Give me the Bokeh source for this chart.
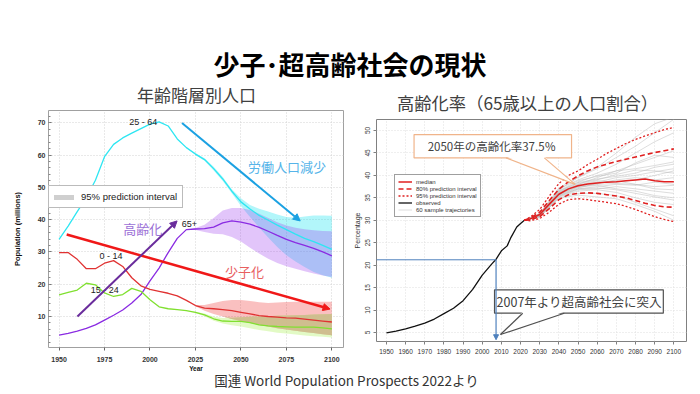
import numpy as np
from bokeh.plotting import figure
from bokeh.models import Legend, LegendItem, Arrow, NormalHead, FixedTicker, Div, Spacer
from bokeh.layouts import column, row
from bokeh.embed import file_html
from bokeh.resources import INLINE
from bokeh.core.properties import value

# ---------------- texts ----------------
slide_title = "少子･超高齢社会の現状"
left_title = "年齢階層別人口"
right_title = "高齢化率（65歳以上の人口割合）"
footer_text = "国連 World Population Prospects 2022より"

# ---------------- Left chart data (millions) ----------------
years = list(range(1950, 2101, 5))
pop_25_64 = [33.9, 38.0, 42.5, 46.8, 52.2, 59.5, 63.3, 65.3, 66.8, 68.2, 69.6, 70.3, 69.0, 65.0,
             62.3, 60.3, 58.6, 55.8, 52.6, 48.8, 45.5, 43.3, 41.3, 39.8, 38.3, 36.9, 35.5, 34.2,
             33.2, 32.0, 30.8]
pop_65plus = [4.2, 4.8, 5.5, 6.3, 7.4, 8.9, 10.4, 12.0, 14.2, 16.8, 21.0, 25.0, 29.8, 34.2,
              36.9, 37.1, 37.2, 37.7, 39.0, 39.6, 39.2, 38.6, 37.6, 36.4, 35.1, 33.9, 32.9, 32.0,
              31.1, 30.0, 28.8]
pop_0_14 = [29.8, 29.8, 27.7, 24.8, 24.8, 26.5, 27.3, 25.5, 22.0, 19.5, 18.4, 17.8, 17.2, 16.4,
            15.0, 13.4, 12.6, 12.4, 12.1, 11.8, 11.3, 10.8, 10.3, 10.0, 9.8, 9.6, 9.5, 9.2,
            8.9, 8.6, 8.3]
pop_15_24 = [16.7, 17.5, 18.2, 20.3, 19.8, 17.3, 16.2, 16.8, 18.7, 17.8, 15.2, 13.0, 12.4, 12.1,
             11.8, 11.3, 10.5, 9.3, 8.6, 8.5, 8.5, 8.1, 7.4, 7.1, 6.9, 6.8, 6.7, 6.7,
             6.7, 6.5, 6.2]

pi_years = list(range(2020, 2101, 5))
pi_25_64_upper = [62.3, 60.6, 59.0, 56.4, 53.2, 49.4, 46.6, 44.5, 43.4, 42.5, 41.6, 40.8, 40.6,
                  41.0, 41.3, 41.3, 41.2]
pi_25_64_lower = [62.3, 60.0, 58.2, 55.2, 52.0, 48.2, 44.2, 40.8, 37.6, 34.5, 31.5, 29.0, 27.0,
                  25.3, 23.8, 22.8, 22.0]
pi_65_upper = [36.9, 37.4, 38.4, 40.5, 42.8, 43.6, 43.6, 43.0, 41.8, 40.5, 39.2, 38.2, 37.5,
               37.0, 36.7, 36.5, 36.4]
pi_65_lower = [36.9, 36.8, 36.2, 35.6, 35.5, 34.6, 33.2, 31.3, 29.5, 27.9, 26.6, 25.6, 24.8,
               24.0, 23.3, 22.7, 22.2]
pi_0_14_upper = [15.0, 13.6, 13.6, 14.2, 14.8, 15.1, 15.1, 14.8, 14.4, 14.2, 14.3, 14.5, 14.6,
                 14.6, 14.6, 14.6, 14.6]
pi_0_14_lower = [15.0, 13.2, 11.8, 10.8, 10.0, 9.2, 8.6, 8.0, 7.4, 6.9, 6.4, 6.0, 5.6,
                 5.2, 4.9, 4.5, 4.2]
pi_15_24_upper = [11.8, 11.5, 10.9, 9.9, 9.5, 9.6, 9.8, 9.9, 10.0, 10.1, 10.2, 10.3, 10.4,
                  10.5, 10.6, 10.7, 10.8]
pi_15_24_lower = [11.8, 11.1, 10.1, 8.7, 7.8, 7.3, 6.9, 6.4, 5.8, 5.4, 5.0, 4.7, 4.4,
                  4.1, 3.9, 3.7, 3.5]

left_x_ticks = [1950, 1975, 2000, 2025, 2050, 2075, 2100]
left_y_ticks = [10, 20, 30, 40, 50, 60, 70]

# series labels and annotations (left)
series_labels = ["25 - 64", "0 - 14", "15 - 24"]
series_label_x = [1996.3, 1978.5, 1975.1]
series_label_y = [70.2, 28.7, 18.3]
label_65 = "65+"
ann_left_text = ["高齢化", "少子化", "労働人口減少"]
ann_left_x = [1996.0, 2051.9, 2075.3]
ann_left_y = [37.4, 23.9, 56.6]
ann_left_color = ["#9b6fd6", "#e8605f", "#56b4e9"]
arrows_left = [  # x0, y0, x1, y1, color, width
    (2017.6, 69.9, 2082.6, 39.6, "#1ba1e2", 2.0),
    (1954.2, 35.4, 2099.0, 12.3, "#f01818", 2.5),
    (1960.1, 10.0, 2014.9, 39.6, "#6a2c9c", 2.0),
]

# ---------------- Right chart data (%) ----------------
obs_years = [1950, 1955, 1960, 1965, 1970, 1975, 1980, 1985, 1990, 1995, 2000, 2005, 2007,
             2010, 2013, 2015, 2018, 2020, 2022]
obs_values = [4.9, 5.3, 5.8, 6.4, 7.1, 8.0, 9.2, 10.4, 12.1, 14.6, 17.8, 20.3, 21.2,
              23.2, 24.3, 26.2, 28.5, 29.3, 30.0]
proj_years = [2022] + list(range(2025, 2101, 5))
median = [30.0, 30.3, 31.3, 33.6, 35.8, 37.0, 37.7, 38.1, 38.3, 38.5, 38.6, 38.8, 39.0,
          39.2, 38.8, 38.6, 38.6]
pi80_upper = [30.0, 30.5, 31.8, 34.4, 36.9, 38.6, 39.9, 41.0, 41.9, 42.5, 43.1, 43.6, 44.1,
              44.6, 45.1, 45.5, 45.9]
pi80_lower = [30.0, 30.1, 30.8, 32.6, 34.6, 35.7, 36.0, 36.1, 36.0, 35.7, 35.4, 35.0, 34.4,
              33.8, 33.3, 33.0, 32.9]
pi95_upper = [30.0, 30.7, 32.4, 35.4, 38.2, 40.0, 41.0, 42.4, 43.6, 44.9, 46.0, 47.1, 48.0,
              48.8, 49.5, 50.2, 50.7]
pi95_lower = [30.0, 29.9, 30.4, 31.8, 33.6, 34.6, 34.8, 34.6, 34.3, 34.0, 33.7, 33.1, 32.4,
              31.6, 30.8, 30.2, 29.7]
traj_years = [2022, 2030, 2040, 2050, 2060, 2070, 2080, 2090, 2100]
traj_values = [
    [30.0, 31.2, 36.2, 38.0, 39.5, 41.0, 42.5, 44.0, 45.5],
    [30.0, 31.0, 35.5, 37.0, 37.2, 36.8, 36.0, 35.2, 34.5],
    [30.0, 31.5, 37.0, 39.0, 40.5, 42.5, 45.0, 47.5, 49.5],
    [30.0, 30.8, 35.0, 36.0, 36.0, 35.5, 34.0, 32.5, 31.0],
    [30.0, 31.1, 36.0, 37.8, 38.5, 39.5, 40.0, 40.8, 41.5],
    [30.0, 31.0, 35.8, 37.5, 38.0, 38.2, 38.0, 37.5, 37.8],
    [30.0, 31.3, 36.5, 38.5, 40.0, 41.0, 41.5, 42.2, 43.0],
    [30.0, 30.9, 35.3, 36.8, 37.0, 37.5, 37.0, 36.5, 36.0],
    [30.0, 31.4, 36.8, 39.5, 41.5, 44.0, 46.5, 49.5, 52.5],
    [30.0, 31.0, 35.6, 37.2, 38.2, 39.0, 39.5, 39.0, 39.5],
    [30.0, 31.2, 36.3, 38.2, 39.0, 40.2, 41.2, 41.0, 40.5],
    [30.0, 30.8, 35.2, 36.5, 36.8, 36.2, 35.0, 34.0, 33.5],
    [30.0, 31.1, 36.1, 37.9, 38.8, 38.5, 39.0, 40.0, 41.0],
    [30.0, 31.3, 36.6, 38.8, 39.8, 40.5, 42.8, 44.5, 44.0],
    [30.0, 30.9, 35.4, 37.0, 37.5, 38.0, 37.8, 38.5, 38.0],
    [30.0, 31.0, 35.7, 37.4, 37.8, 37.0, 36.5, 35.5, 35.0],
    [30.0, 31.2, 36.4, 38.4, 39.2, 39.8, 40.5, 41.8, 42.5],
    [30.0, 31.5, 37.2, 39.6, 41.8, 45.0, 48.5, 51.5, 53.0],
    [30.0, 31.0, 35.9, 37.6, 38.3, 38.8, 38.0, 37.0, 36.8],
    [30.0, 30.7, 34.9, 35.6, 35.2, 34.8, 33.5, 32.0, 30.0],
]
right_x_ticks = list(range(1950, 2101, 10))
right_y_ticks = list(range(5, 51, 5))

# callouts (right)
callout1_text = "2050年の高齢化率37.5％"
callout1_box = (1964.4, 2046.6, 49.1, 43.9)      # left, right, top, bottom
callout1_tail = ([2012.4, 2048.5, 2032.4], [43.9, 38.0, 43.9])
callout1_pos = (2005.0, 46.5)
callout2_text = "2007年より超高齢社会に突入"
callout2_box = (2006.4, 2094.5, 14.5, 9.3)
callout2_tail = ([2021.1, 2009.5, 2042.8], [9.3, 4.55, 9.3])
callout2_pos = (2050.6, 11.95)
year_2007 = 2007.2
rate_2007 = 21.2

FONT_JP = "Noto Sans CJK JP"
FONT_LAT = "Liberation Sans"

# ================= Left figure =================
p1 = figure(width=342, height=268, x_range=(1944.2, 2106.4), y_range=(0.4, 73.8),
            output_backend="svg", toolbar_location=None,
            min_border_left=40, min_border_right=7, min_border_top=4, min_border_bottom=25)
p1.background_fill_color = "white"
p1.border_fill_color = "white"
p1.outline_line_color = "#a0a0a0"
p1.grid.grid_line_color = "#d2d2d2"
p1.grid.grid_line_dash = "1 2"
p1.xaxis.ticker = FixedTicker(ticks=left_x_ticks)
p1.yaxis.ticker = FixedTicker(ticks=left_y_ticks, minor_ticks=list(range(2, 74, 2)))
for ax in (p1.xaxis[0], p1.yaxis[0]):
    ax.axis_line_color = None
    ax.major_label_text_font = FONT_LAT
    ax.major_label_text_font_size = "7px"
    ax.major_label_text_font_style = "bold"
    ax.major_label_text_color = "#333333"
    ax.major_tick_line_color = "#666666"
    ax.minor_tick_line_color = "#888888"
    ax.axis_label_text_font = FONT_LAT
    ax.axis_label_text_font_style = "bold"
    ax.axis_label_text_color = "#111111"
p1.xaxis.major_tick_out = 3
p1.xaxis.major_tick_in = 0
p1.xaxis.minor_tick_out = 0
p1.xaxis.minor_tick_in = 0
p1.xaxis.major_label_standoff = 6
p1.xaxis.axis_label = "Year"
p1.xaxis.axis_label_text_font_size = "6.5px"
p1.xaxis.axis_label_standoff = 0
p1.yaxis.major_tick_out = 0
p1.yaxis.major_tick_in = 3
p1.yaxis.minor_tick_out = 0
p1.yaxis.minor_tick_in = 2
p1.yaxis.major_label_standoff = 3
p1.yaxis.axis_label = "Population (millions)"
p1.yaxis.axis_label_text_font_size = "7.5px"
p1.yaxis.axis_label_standoff = 13

# bands
p1.varea(x=pi_years, y1=pi_25_64_lower, y2=pi_25_64_upper, fill_color="#00e0f0", fill_alpha=0.3)
p1.varea(x=pi_years, y1=pi_65_lower, y2=pi_65_upper, fill_color="#a040f0", fill_alpha=0.3)
p1.varea(x=pi_years, y1=pi_0_14_lower, y2=pi_0_14_upper, fill_color="#f03030", fill_alpha=0.3)
p1.varea(x=pi_years, y1=pi_15_24_lower, y2=pi_15_24_upper, fill_color="#a0f040", fill_alpha=0.3)
ov_lo = np.maximum(pi_0_14_lower, pi_15_24_lower)
ov_hi = np.minimum(pi_0_14_upper, pi_15_24_upper)
ov_hi = np.maximum(ov_hi, ov_lo)
p1.varea(x=pi_years, y1=ov_lo, y2=ov_hi, fill_color="#cdbd8e", fill_alpha=0.9)

# lines
p1.line(years, pop_25_64, line_color="#2ee6f2", line_width=1.3)
p1.line(years, pop_65plus, line_color="#8a2be2", line_width=1.3)
p1.line(years, pop_0_14, line_color="#e03232", line_width=1.3)
p1.line(years, pop_15_24, line_color="#80e030", line_width=1.3)

# arrows
for x0, y0, x1, y1, c, w in arrows_left:
    p1.add_layout(Arrow(end=NormalHead(size=7, fill_color=c, line_color=c, line_width=1),
                        x_start=x0, y_start=y0, x_end=x1, y_end=y1,
                        line_color=c, line_width=w))

# labels
p1.text(x=series_label_x, y=series_label_y, text=series_labels, text_font=value(FONT_LAT),
        text_font_size="9px", text_color="#222222", text_align="center", text_baseline="middle")
p1.text(x=[2017.5], y=[38.8], text=[label_65], text_font=value(FONT_LAT),
        text_font_size="9px", text_color="#222222", text_align="left", text_baseline="middle")
p1.text(x=ann_left_x, y=ann_left_y, text=ann_left_text, text_font=value(FONT_JP),
        text_font_size="13px", text_color=ann_left_color, text_align="center",
        text_baseline="middle")

# legend (swatch only, no data drawn)
r_leg = p1.line(x=[np.nan], y=[np.nan], line_color="#cfcfcf", line_width=5, line_cap="round")
leg1 = Legend(items=[LegendItem(label="95% prediction interval", renderers=[r_leg])],
              location=(0, 139), label_text_font=FONT_LAT, label_text_font_size="9.5px",
              label_text_color="#222222", glyph_width=20, glyph_height=10, label_height=11,
              label_standoff=7, padding=5, margin=0, spacing=0,
              border_line_color="#777777", background_fill_alpha=1.0)
p1.add_layout(leg1)

# ================= Right figure =================
p2 = figure(width=342, height=262, x_range=(1944.8, 2106.6), y_range=(3.0, 52.45),
            output_backend="svg", toolbar_location=None,
            min_border_left=25, min_border_right=6, min_border_top=7, min_border_bottom=33)
p2.background_fill_color = "white"
p2.border_fill_color = "white"
p2.outline_line_color = "#808080"
p2.grid.grid_line_color = "#dedede"
p2.grid.grid_line_dash = "1 2"
p2.xaxis.ticker = FixedTicker(ticks=right_x_ticks)
p2.yaxis.ticker = FixedTicker(ticks=right_y_ticks)
for ax in (p2.xaxis[0], p2.yaxis[0]):
    ax.axis_line_color = None
    ax.major_label_text_font = FONT_LAT
    ax.major_label_text_font_size = "6.5px"
    ax.major_label_text_color = "#333333"
    ax.major_tick_line_color = "#808080"
    ax.major_tick_out = 3
    ax.major_tick_in = 0
    ax.minor_tick_out = 0
    ax.minor_tick_in = 0
    ax.major_label_standoff = 3
p2.xaxis.major_label_standoff = 4
p2.yaxis.major_label_orientation = "vertical"
p2.yaxis.axis_label = "Percentage"
p2.yaxis.axis_label_text_font = FONT_LAT
p2.yaxis.axis_label_text_font_size = "7px"
p2.yaxis.axis_label_text_font_style = "normal"
p2.yaxis.axis_label_text_color = "#333333"
p2.yaxis.axis_label_standoff = 2

r_traj = p2.multi_line(xs=[traj_years] * len(traj_values), ys=traj_values,
                       line_color="#b8b8b8", line_alpha=0.6, line_width=0.8)
r_obs = p2.line(obs_years, obs_values, line_color="#111111", line_width=1.3)
r95 = p2.line(proj_years, pi95_upper, line_color="#e02020", line_width=1.3, line_dash="2 2")
p2.line(proj_years, pi95_lower, line_color="#e02020", line_width=1.3, line_dash="2 2")
r80 = p2.line(proj_years, pi80_upper, line_color="#e02020", line_width=1.6, line_dash="5 3")
p2.line(proj_years, pi80_lower, line_color="#e02020", line_width=1.6, line_dash="5 3")
r_med = p2.line(proj_years, median, line_color="#e02020", line_width=1.5)

# 2007 marker
p2.segment(x0=[1944.8], y0=[rate_2007], x1=[year_2007], y1=[rate_2007],
           line_color="#4f81bd", line_width=1)
p2.add_layout(Arrow(end=NormalHead(size=5, fill_color="#4f81bd", line_color="#4f81bd"),
                    x_start=year_2007, y_start=rate_2007, x_end=year_2007, y_end=3.4,
                    line_color="#4f81bd", line_width=1.2))

# callouts
def callout(p, box, tail, pos, text, edge, size):
    l, r, t, b = box
    p.quad(left=[l], right=[r], top=[t], bottom=[b], fill_color="white",
           line_color=edge, line_width=1.2)
    tx, ty = tail
    eps = (t - b) * 0.06
    p.patch(x=[tx[0], tx[1], tx[2]], y=[ty[0] + eps, ty[1], ty[2] + eps],
            fill_color="white", line_color=None)
    p.multi_line(xs=[[tx[0], tx[1]], [tx[1], tx[2]]], ys=[[ty[0], ty[1]], [ty[1], ty[2]]],
                 line_color=edge, line_width=1.2)
    p.text(x=[pos[0]], y=[pos[1]], text=[text], text_font=value(FONT_JP),
           text_font_size=size, text_color="#404040", text_align="center",
           text_baseline="middle")

callout(p2, callout1_box, callout1_tail, callout1_pos, callout1_text, "#f0b48a", "11.5px")
callout(p2, callout2_box, callout2_tail, callout2_pos, callout2_text, "#505050", "12.5px")

leg2 = Legend(items=[LegendItem(label="median", renderers=[r_med]),
                     LegendItem(label="80% prediction interval", renderers=[r80]),
                     LegendItem(label="95% prediction interval", renderers=[r95]),
                     LegendItem(label="observed", renderers=[r_obs]),
                     LegendItem(label="60 sample trajectories", renderers=[r_traj])],
              location=(18, 124), label_text_font=FONT_LAT, label_text_font_size="6px",
              label_text_color="#333333", glyph_width=14, glyph_height=7, label_height=7,
              label_standoff=4, padding=3, margin=0, spacing=0,
              border_line_color="#404040", background_fill_alpha=1.0)
p2.add_layout(leg2)

# ================= Page layout =================
jp = "'Noto Sans CJK JP', 'Noto Sans', sans-serif"
title_div = Div(text=(f'<div style="width:684px;height:78px;box-sizing:border-box;padding-top:39px;'
                      f'text-align:center;font-family:{jp};font-size:26px;font-weight:bold;'
                      f'line-height:34px;color:#000;white-space:nowrap;">{slide_title}</div>'),
                width=684, height=78, margin=(0, 0, 0, 0))
left_sub = Div(text=(f'<div style="width:342px;height:20px;box-sizing:border-box;padding-left:129px;'
                     f'font-family:{jp};font-size:17px;line-height:18px;color:#404040;'
                     f'white-space:nowrap;">{left_title}</div>'),
               width=342, height=20, margin=(0, 0, 0, 0))
right_sub = Div(text=(f'<div style="width:342px;height:26px;box-sizing:border-box;padding-top:8px;'
                      f'padding-left:47px;font-family:{jp};font-size:17.3px;line-height:18px;'
                      f'color:#404040;white-space:nowrap;">{right_title}</div>'),
                width=342, height=26, margin=(0, 0, 0, 0))
footer_div = Div(text=(f'<div style="width:684px;height:12px;box-sizing:border-box;padding-right:7px;'
                       f'text-align:center;font-family:{jp};font-size:13.5px;line-height:12px;'
                       f'color:#333;white-space:nowrap;">{footer_text}</div>'),
                 width=684, height=12, margin=(0, 0, 0, 0))

content = column(title_div,
                 row(column(left_sub, p1, spacing=0), column(right_sub, p2, spacing=0), spacing=0),
                 footer_div, spacing=0)
layout = column(Spacer(width=700, height=8),
                row(Spacer(width=8, height=378), content, spacing=0),
                spacing=0)

open("out.html", "w").write(file_html(layout, INLINE))
